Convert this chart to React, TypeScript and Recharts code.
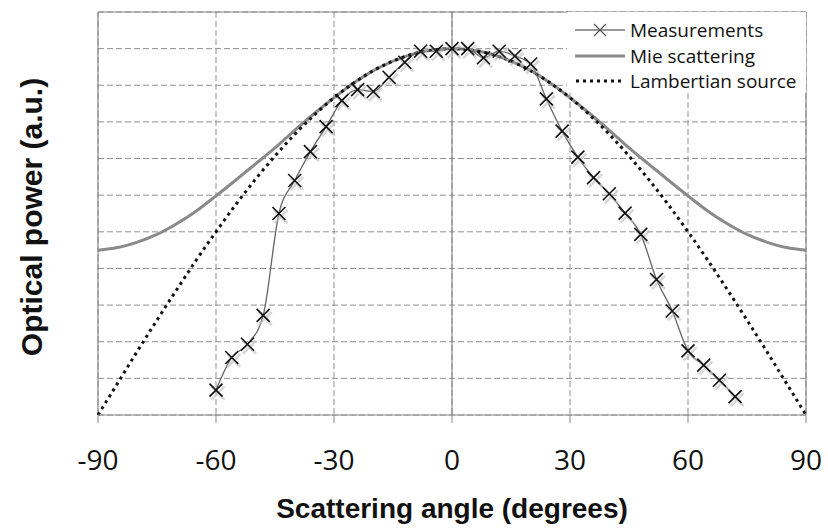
import React from 'react';
import { LineChart, Line, XAxis, YAxis, CartesianGrid, ReferenceLine, Legend } from 'recharts';

// Theory curves sampled every 5 degrees
const theoryAngles = [-90, -85, -80, -75, -70, -65, -60, -55, -50, -45, -40, -35, -30, -25, -20, -15, -10, -5, 0, 5, 10, 15, 20, 25, 30, 35, 40, 45, 50, 55, 60, 65, 70, 75, 80, 85, 90];
const mieValues = [0.45, 0.457, 0.472, 0.493, 0.522, 0.557, 0.598, 0.641, 0.685, 0.729, 0.777, 0.823, 0.866, 0.906, 0.94, 0.966, 0.985, 0.996, 1.0, 0.996, 0.985, 0.966, 0.94, 0.906, 0.866, 0.823, 0.777, 0.729, 0.685, 0.641, 0.598, 0.557, 0.522, 0.493, 0.472, 0.457, 0.45];
const lambertValues = [0, 0.087, 0.174, 0.259, 0.342, 0.423, 0.5, 0.574, 0.643, 0.707, 0.766, 0.819, 0.866, 0.906, 0.94, 0.966, 0.985, 0.996, 1.0, 0.996, 0.985, 0.966, 0.94, 0.906, 0.866, 0.819, 0.766, 0.707, 0.643, 0.574, 0.5, 0.423, 0.342, 0.259, 0.174, 0.087, 0];

// Measurements every 4 degrees
const measAngles = [-60, -56, -52, -48, -44, -40, -36, -32, -28, -24, -20, -16, -12, -8, -4, 0, 4, 8, 12, 16, 20, 24, 28, 32, 36, 40, 44, 48, 52, 56, 60, 64, 68, 72];
const measValues = [0.068, 0.157, 0.193, 0.272, 0.55, 0.64, 0.719, 0.787, 0.858, 0.888, 0.883, 0.922, 0.963, 0.993, 0.993, 1.0, 1.0, 0.975, 0.993, 0.98, 0.958, 0.863, 0.775, 0.704, 0.648, 0.604, 0.551, 0.493, 0.37, 0.284, 0.175, 0.136, 0.095, 0.05];

const xTicks = [-90, -60, -30, 0, 30, 60, 90];
const yTicks = [0, 0.1, 0.2, 0.3, 0.4, 0.5, 0.6, 0.7, 0.8, 0.9, 1.0, 1.1];

const mieData = theoryAngles.map((a, i) => ({ angle: a, v: mieValues[i] }));
const lambertData = theoryAngles.map((a, i) => ({ angle: a, v: lambertValues[i] }));
const measData = measAngles.map((a, i) => ({ angle: a, v: measValues[i] }));

const CrossDot = (props: any) => {
  const { cx, cy, index } = props;
  if (cx == null || cy == null) return <g key={`d${index}`} />;
  const s = 6.5;
  return (
    <g key={`d${index}`}>
      <path d={`M${cx - s + 2},${cy - s + 3}L${cx + s + 2},${cy + s + 3}M${cx + s + 2},${cy - s + 3}L${cx - s + 2},${cy + s + 3}`} stroke="#bdbdbd" strokeWidth={2.6} strokeOpacity={0.6} fill="none" />
      <path d={`M${cx - s},${cy - s}L${cx + s},${cy + s}M${cx + s},${cy - s}L${cx - s},${cy + s}`} stroke="#111" strokeWidth={1.6} fill="none" />
    </g>
  );
};

const EmptyTick = () => <g />;

const LegendBox = () => {
  const rowStyle = (top: number): React.CSSProperties => ({ position: 'absolute', left: 0, top, height: 24, width: 239 });
  const txt: React.CSSProperties = { position: 'absolute', left: 63, top: 0, lineHeight: '24px', fontFamily: '"Open Sans", sans-serif', fontSize: 19, color: '#111', whiteSpace: 'nowrap' };
  return (
    <div style={{ position: 'relative', width: 239, height: 81, background: '#fff' }}>
      <div style={rowStyle(6)}>
        <svg width={60} height={24} style={{ position: 'absolute', left: 6, top: 0 }}>
          <line x1={2} y1={12} x2={52} y2={12} stroke="#777" strokeWidth={1.3} />
          <path d="M21,6L33,18M33,6L21,18" stroke="#555" strokeWidth={1.2} />
        </svg>
        <span style={txt}>Measurements</span>
      </div>
      <div style={rowStyle(32)}>
        <svg width={60} height={24} style={{ position: 'absolute', left: 6, top: 0 }}>
          <line x1={2} y1={12} x2={52} y2={12} stroke="#8a8a8a" strokeWidth={3} />
        </svg>
        <span style={txt}>Mie scattering</span>
      </div>
      <div style={rowStyle(57)}>
        <svg width={60} height={24} style={{ position: 'absolute', left: 6, top: 0 }}>
          <line x1={3} y1={12} x2={52} y2={12} stroke="#111" strokeWidth={3} strokeDasharray="3 4" />
        </svg>
        <span style={txt}>Lambertian source</span>
      </div>
    </div>
  );
};

export default function App() {
  return (
    <div style={{ position: 'absolute', left: 0, top: 0, width: 828, height: 529, background: '#fff' }}>
      <LineChart width={828} height={529} margin={{ top: 12, right: 22, left: 0, bottom: 0 }}>
        <CartesianGrid stroke="#8f8f8f" strokeDasharray="6 3" />
        <XAxis
          dataKey="angle"
          type="number"
          domain={[-90, 90]}
          ticks={xTicks}
          allowDuplicatedCategory={false}
          height={114}
          tickSize={8}
          tickMargin={27}
          stroke="#8a8a8a"
          tick={{ fill: '#111', fontSize: 28, fontFamily: '"Open Sans", sans-serif' }}
          label={{
            content: () => (
              <text x={452} y={518} textAnchor="middle" fontFamily='"Liberation Sans", Arial, sans-serif' fontWeight="bold" fontSize={28} fill="#111">
                Scattering angle (degrees)
              </text>
            ),
          }}
        />
        <YAxis
          type="number"
          domain={[0, 1.1]}
          ticks={yTicks}
          interval={0}
          width={98}
          tick={EmptyTick}
          axisLine={false}
          tickLine={false}
          label={{
            content: () => (
              <text x={42} y={217} transform="rotate(-90 42 217)" textAnchor="middle" fontFamily='"Liberation Sans", Arial, sans-serif' fontWeight="bold" fontSize={30} fill="#111">
                Optical power (a.u.)
              </text>
            ),
          }}
        />
        <ReferenceLine y={1.1} stroke="#8a8a8a" strokeWidth={1.2} />
        <ReferenceLine x={-90} stroke="#8a8a8a" strokeWidth={1.2} />
        <ReferenceLine x={90} stroke="#8a8a8a" strokeWidth={1.2} />
        <ReferenceLine x={0} stroke="#8a8a8a" strokeWidth={1.2} />
        <Line data={mieData} dataKey="v" name="Mie scattering" type="monotone" stroke="#8a8a8a" strokeWidth={3} dot={false} isAnimationActive={false} />
        <Line data={lambertData} dataKey="v" name="Lambertian source" type="monotone" stroke="#111" strokeWidth={3} strokeDasharray="3 4" dot={false} isAnimationActive={false} />
        <Line data={measData} dataKey="v" name="Measurements" type="monotone" stroke="#666" strokeWidth={1.3} dot={CrossDot} activeDot={false} isAnimationActive={false} />
        <Legend
          layout="vertical"
          align="center"
          verticalAlign="middle"
          content={() => <LegendBox />}
          wrapperStyle={{ position: 'absolute', left: 567, top: 12, width: 239, height: 81 }}
        />
      </LineChart>
    </div>
  );
}
